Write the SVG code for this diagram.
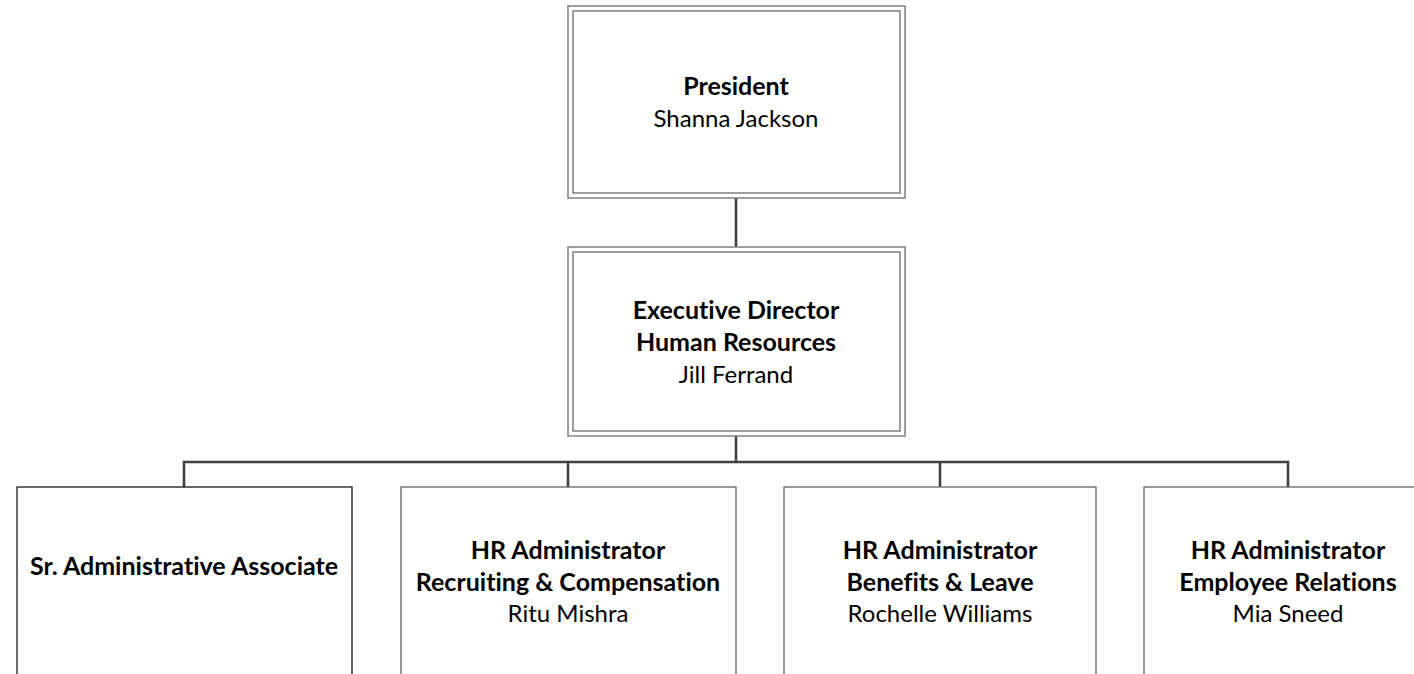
<svg xmlns="http://www.w3.org/2000/svg" width="1414" height="674" viewBox="0 0 1414 674">
  <style>
    .outer { fill: #ffffff; stroke: #7f7f7f; stroke-width: 1.5; }
    .inner { fill: none; stroke: #7f7f7f; stroke-width: 1.5; }
    .leaf { fill: #ffffff; stroke: #666666; stroke-width: 1.3; }
    .leafdark { fill: #ffffff; stroke: #1a1a1a; stroke-width: 1.3; }
    .conn { fill: none; stroke: #404040; stroke-width: 2.6; }
    text { font-family: Lato, "Open Sans", "Liberation Sans", sans-serif; font-size: 24px; fill: #000000; text-anchor: middle; font-variant-ligatures: none; }
    .b { font-weight: bold; font-size: 25px; }
  </style>
  <rect x="0" y="0" width="1414" height="674" fill="#ffffff"/>
  <g id="connectors">
    <path class="conn" d="M736,198 V247"/>
    <path class="conn" d="M736,436 V462"/>
    <path class="conn" d="M184,487 V462 H1288 V487"/>
    <path class="conn" d="M568,462 V487"/>
    <path class="conn" d="M940,462 V487"/>
  </g>
  <g id="president">
    <rect class="outer" x="568" y="6" width="337" height="192"/>
    <rect class="inner" x="573" y="11" width="327" height="182"/>
    <text x="736" y="95" class="b">President</text>
    <text x="736" y="127">Shanna Jackson</text>
  </g>
  <g id="exec-director">
    <rect class="outer" x="568" y="247" width="337" height="189"/>
    <rect class="inner" x="573" y="252" width="327" height="179"/>
    <text x="736" y="319" class="b">Executive Director</text>
    <text x="736" y="351" class="b">Human Resources</text>
    <text x="736" y="383">Jill Ferrand</text>
  </g>
  <g id="sr-admin-associate">
    <rect class="leafdark" x="17" y="487" width="335" height="200"/>
    <text x="184" y="575" class="b">Sr. Administrative Associate</text>
  </g>
  <g id="hr-recruiting">
    <rect class="leaf" x="401" y="487" width="335" height="200"/>
    <text x="568" y="559" class="b">HR Administrator</text>
    <text x="568" y="591" class="b">Recruiting &amp; Compensation</text>
    <text x="568" y="622">Ritu Mishra</text>
  </g>
  <g id="hr-benefits">
    <rect class="leaf" x="784" y="487" width="312" height="200"/>
    <text x="940" y="559" class="b">HR Administrator</text>
    <text x="940" y="591" class="b">Benefits &amp; Leave</text>
    <text x="940" y="622">Rochelle Williams</text>
  </g>
  <g id="hr-employee-relations">
    <rect class="leaf" x="1144" y="487" width="288" height="200"/>
    <text x="1288" y="559" class="b">HR Administrator</text>
    <text x="1288" y="591" class="b">Employee Relations</text>
    <text x="1288" y="622">Mia Sneed</text>
  </g>
</svg>
